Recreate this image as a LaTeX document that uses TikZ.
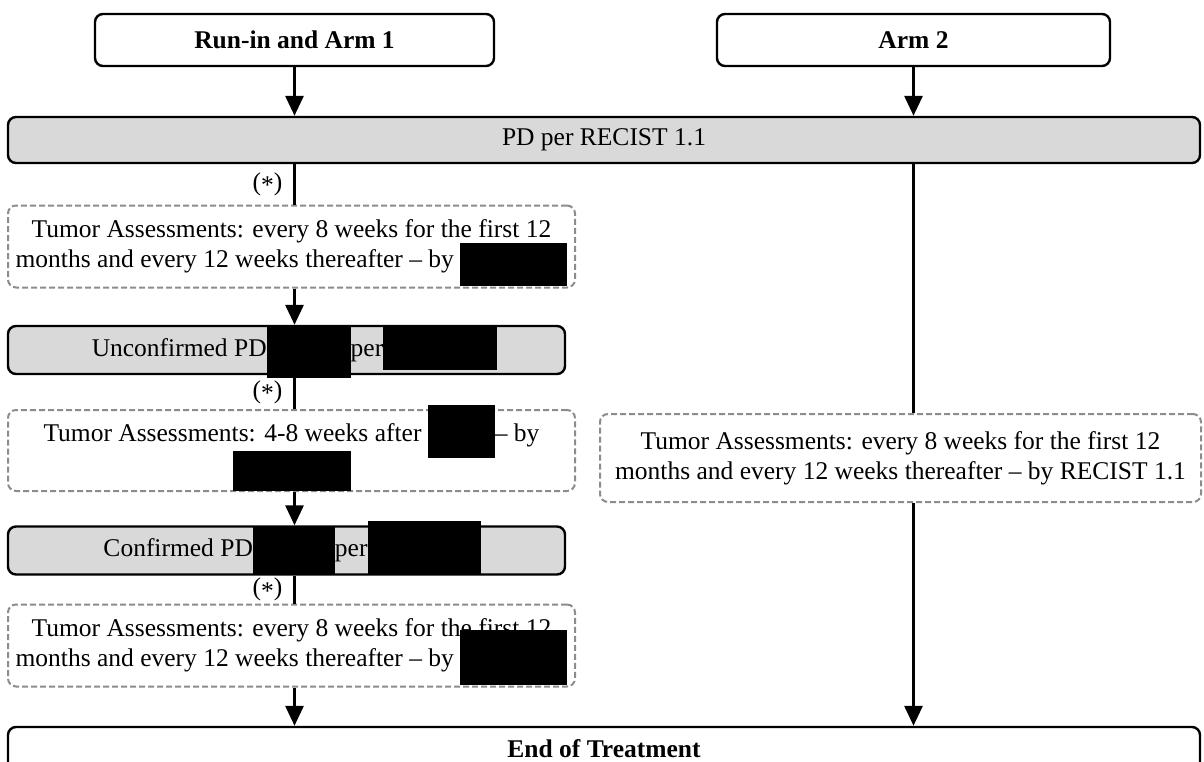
\documentclass[tikz,border=0pt]{standalone}
\usepackage{fontspec}
\setmainfont{Liberation Serif}
\usetikzlibrary{arrows.meta}

\definecolor{boxgray}{HTML}{D9D9D9}
\definecolor{dashgray}{HTML}{8C8C8C}
\newcommand{\redact}[3]{\smash{\rule[-#3]{#1}{#2}}}

\tikzset{
  flowbox/.style={draw, line width=1.2pt, rounded corners=4pt, inner sep=0pt,
    align=center, font=\fontsize{12.75}{15}\selectfont},
  headbox/.style={flowbox, fill=white, font=\fontsize{12.75}{15}\selectfont\bfseries},
  pdbox/.style={flowbox, fill=boxgray, minimum width=278.5pt, minimum height=24pt},
  tabox/.style={flowbox, fill=white, draw=dashgray, line width=1pt,
    dash pattern=on 3pt off 1.5pt, minimum width=283.5pt, minimum height=41pt},
  flowline/.style={line width=1.5pt},
  starlabel/.style={left=2pt, font=\fontsize{12.75}{15}\selectfont},
}

\begin{document}
\begin{tikzpicture}[x=0.5pt, y=-0.5pt, >={Triangle[width=9pt,length=10pt]}]
    \useasboundingbox (0,0) rectangle (1204,761);
    \clip (0,0) rectangle (1204,761);

    % top of the two columns
    \node[headbox, minimum width=199.5pt, minimum height=26pt] (runin) at (294.5,40) {Run-in and Arm 1};
    \node[headbox, minimum width=196.5pt, minimum height=26pt] (arm2) at (913.5,40) {Arm 2};

    \node[pdbox, minimum width=596pt, minimum height=23pt] (pd) at (604,140) {PD per RECIST 1.1};

    % left column
    \node[tabox] (ta1) at (291.5,246.5) {Tumor Assessments: every 8 weeks for the first 12\\
      months and every 12 weeks thereafter -- by \redact{53.5pt}{21.5pt}{9pt}};
    \node[pdbox] (uncf) at (286.5,350) {\hspace*{8pt}Unconfirmed PD\redact{42pt}{26pt}{10.8pt}per\redact{57pt}{21.8pt}{6.8pt}};
    \node[tabox, minimum height=40.5pt] (ta2) at (291.5,450.5) {Tumor Assessments: 4-8 weeks after \redact{33.5pt}{26.5pt}{8pt}-- by\\
      \redact{59pt}{20pt}{9.5pt}\vphantom{y}};
    \node[pdbox] (conf) at (286.5,550.5) {\hspace*{5.5pt}Confirmed PD\redact{41pt}{24pt}{8.5pt}per\redact{56.5pt}{26.5pt}{8.5pt}};
    \node[tabox] (ta3) at (291.5,645.5) {Tumor Assessments: every 8 weeks for the first 12\\
      months and every 12 weeks thereafter -- by \redact{53.5pt}{27.5pt}{9pt}};

    % right column
    \node[tabox, minimum width=300.5pt, minimum height=44pt] (ta4) at (900.5,458) {Tumor Assessments: every 8 weeks for the first 12\\
      months and every 12 weeks thereafter -- by RECIST 1.1};

    \node[headbox, minimum width=596pt, minimum height=22pt] (eot) at (604,749) {End of Treatment};

    % connectors
    \draw[flowline, ->] (runin.south) -- (runin |- pd.north);
    \draw[flowline, ->] (arm2.south) -- (arm2 |- pd.north);

    \draw[flowline] (runin |- pd.south) -- node[starlabel] {(\raisebox{-0.3ex}{*})} (runin |- ta1.north);
    \draw[flowline, ->] (runin |- ta1.south) -- (runin |- uncf.north);
    \draw[flowline] (runin |- uncf.south) -- node[starlabel] {(\raisebox{-0.3ex}{*})} (runin |- ta2.north);
    \draw[flowline, ->] (runin |- ta2.south) -- (runin |- conf.north);
    \draw[flowline] (runin |- conf.south) -- node[starlabel] {(\raisebox{-0.3ex}{*})} (runin |- ta3.north);
    \draw[flowline, ->] (runin |- ta3.south) -- (runin |- eot.north);

    \draw[flowline] (arm2 |- pd.south) -- (arm2 |- ta4.north);
    \draw[flowline, ->] (arm2 |- ta4.south) -- (arm2 |- eot.north);
\end{tikzpicture}
\end{document}
